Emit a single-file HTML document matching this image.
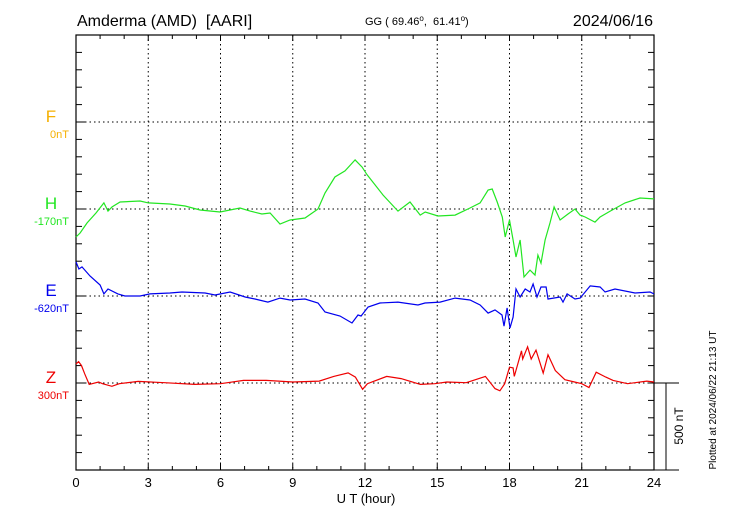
<!DOCTYPE html>
<html><head><meta charset="utf-8"><style>
body{margin:0;background:#fff}
svg{display:block;font-family:"Liberation Sans",sans-serif}
</style></head><body>
<svg width="730" height="520" viewBox="0 0 730 520" xmlns="http://www.w3.org/2000/svg">
<g id="frame"></g>
<g id="series"></g>
<text x="77" y="26" font-size="16">Amderma (AMD)&#160;&#160;[AARI]</text>
<text x="365" y="25" font-size="11">GG ( 69.46<tspan dy="-4" font-size="8">o</tspan><tspan dy="4">,&#160;&#160;61.41</tspan><tspan dy="-4" font-size="8">o</tspan><tspan dy="4">)</tspan></text>
<text x="653" y="26" font-size="16" text-anchor="end">2024/06/16</text>
<text x="366" y="503" font-size="13" text-anchor="middle">U T (hour)</text>
<text transform="translate(716,400) rotate(-90)" font-size="10" text-anchor="middle">Plotted at 2024/06/22 21:13 UT</text>
<text transform="translate(683,426) rotate(-90)" font-size="12" text-anchor="middle">500 nT</text>
</svg>
<script>
const hourTicks=[0,3,6,9,12,15,18,21,24];
const compNames=['F','H','E','Z'];
const compBase=['0nT','-170nT','-620nT','300nT'];
const hH=[0,0.17,0.46,0.83,1.16,1.33,1.5,1.83,2.66,3,3.9,4.53,5.15,5.98,6.81,7.23,7.72,8.06,8.47,8.89,9.51,10.05,10.34,10.75,11.17,11.59,11.88,12.09,12.75,13.37,13.87,14.29,14.5,15.03,15.74,16.36,16.78,17.11,17.28,17.49,17.7,17.82,18.0,18.15,18.27,18.44,18.6,18.85,19.06,19.18,19.31,19.48,19.68,19.85,20.1,20.43,20.72,20.93,21.14,21.55,21.76,22.18,22.8,23.42,24];
const vH=[-161,-138,-80,-23,35,-12,12,40,46,35,29,17,-6,-17,6,-12,-29,-23,-86,-63,-52,0,92,184,219,282,241,196,80,-12,40,-35,-17,-40,-35,6,35,109,115,40,-46,-161,-63,-178,-276,-178,-391,-351,-380,-265,-311,-178,-80,12,-63,-29,0,-35,-46,-75,-46,-12,35,63,58];
const hE=[0,0.12,0.25,0.58,1.0,1.16,1.33,1.74,2.03,2.66,3.07,3.9,4.4,5.36,5.77,6.4,7.02,7.43,7.97,8.47,8.89,9.51,10.05,10.34,10.96,11.46,11.71,11.84,12.13,12.62,13.37,14.2,14.49,15.12,15.74,16.36,16.78,17.11,17.4,17.69,17.77,17.9,18.02,18.15,18.27,18.44,18.65,18.85,18.98,19.14,19.31,19.52,19.6,20.1,20.22,20.39,20.72,20.93,21.35,21.76,21.97,22.38,23.21,23.84,24];
const vE=[196,155,167,115,63,12,40,12,0,0,12,17,23,17,6,23,-6,-17,-35,-12,-23,-17,-40,-92,-115,-155,-109,-115,-63,-40,-35,-52,-40,-35,-12,-23,-52,-98,-80,-109,-173,-69,-184,-121,40,-6,40,23,69,-6,52,52,-17,-6,-35,12,-17,-12,58,52,23,40,17,23,12];
const hZ=[0,0.11,0.23,0.36,0.55,0.94,1.1,1.49,1.8,2.58,3.68,4.93,6.0,6.96,7.9,9.0,10.1,10.7,11.3,11.6,11.9,12.1,12.9,13.5,14.3,14.9,15.4,16.2,17.0,17.4,17.6,17.8,18.0,18.15,18.2,18.5,18.55,18.75,18.9,19.1,19.4,19.6,19.9,20.3,20.7,21.0,21.3,21.6,22.0,22.3,22.9,23.7,24];
const vZ=[109,123,100,53,-8,6,-4,-19,-4,9,2,-8,-4,15,15,6,11,38,58,34,-36,-4,38,25,-8,-4,6,2,38,-32,-45,-4,91,87,38,185,138,208,138,189,57,162,72,19,6,-4,-26,62,34,15,-4,11,6];

const L=76,R=654,T=35,B=470;
const X=h=>L+h*(R-L)/24;
const pxPerNT=87/500;
const bases=[122,209,296,383];
const Y=(v,i)=>bases[i]-v*pxPerNT;
const NS='http://www.w3.org/2000/svg';
function mk(tag,attrs,parent){const e=document.createElementNS(NS,tag);for(const k in attrs)e.setAttribute(k,attrs[k]);parent.appendChild(e);return e;}
const fr=document.getElementById('frame');
const box=mk('rect',{x:L,y:T,width:R-L,height:B-T,fill:'none',stroke:'#000','stroke-width':1.2},fr);


mk('line',{x1:R,y1:B,x2:679,y2:B,stroke:'#000'},fr);
mk('line',{x1:R,y1:383,x2:679,y2:383,stroke:'#000'},fr);
const sb=mk('line',{x1:666,y1:383,x2:666,y2:470,stroke:'#000'},fr);


for(let h=0;h<=24;h++){
  const x=X(h),len=h%3===0?6:4;
  mk('line',{x1:x,y1:T,x2:x,y2:T+len,stroke:'#000'},fr);
  mk('line',{x1:x,y1:B,x2:x,y2:B-len,stroke:'#000'},fr);
}
hourTicks.forEach(h=>{
  const x=X(h);
  if(h>0&&h<24){const g=mk('line',{x1:x,y1:T,x2:x,y2:B,stroke:'#000','stroke-dasharray':'1.5,3'},fr);
  
  }
  const t=mk('text',{x:x,y:487,'font-size':13,'text-anchor':'middle'},fr);t.textContent=h;
  
  
});
for(let k=1;k<25;k++){const y=T+k*87/5;
  mk('line',{x1:L,y1:y,x2:L+6,y2:y,stroke:'#000'},fr);
  mk('line',{x1:R,y1:y,x2:R-6,y2:y,stroke:'#000'},fr);}
const cols=['#f5b000','#22e622','#0000ee','#ee0000'];
bases.forEach((y,i)=>{
  const g=mk('line',{x1:L,y1:y,x2:R,y2:y,stroke:'#000','stroke-dasharray':'1.5,3'},fr);
  
  
  mk('line',{x1:L,y1:y,x2:L+10,y2:y,stroke:'#000'},fr);
  const t=mk('text',{x:51,y:y,'font-size':17,'text-anchor':'middle',fill:cols[i]},fr);t.textContent=compNames[i];
  
  
  const b=mk('text',{x:69,y:y+16,'font-size':11,'text-anchor':'end',fill:cols[i]},fr);b.textContent=compBase[i];
  
  
});
const se=document.getElementById('series');
[[hH,vH,1],[hE,vE,2],[hZ,vZ,3]].forEach(([hs,vs,i])=>{
  const pts=hs.map((h,j)=>X(h).toFixed(1)+','+Y(vs[j],i).toFixed(1)).join(' ');
  const p=mk('polyline',{points:pts,fill:'none',stroke:cols[i],'stroke-width':1.2},se);
  
  
});
</script>
</body></html>
